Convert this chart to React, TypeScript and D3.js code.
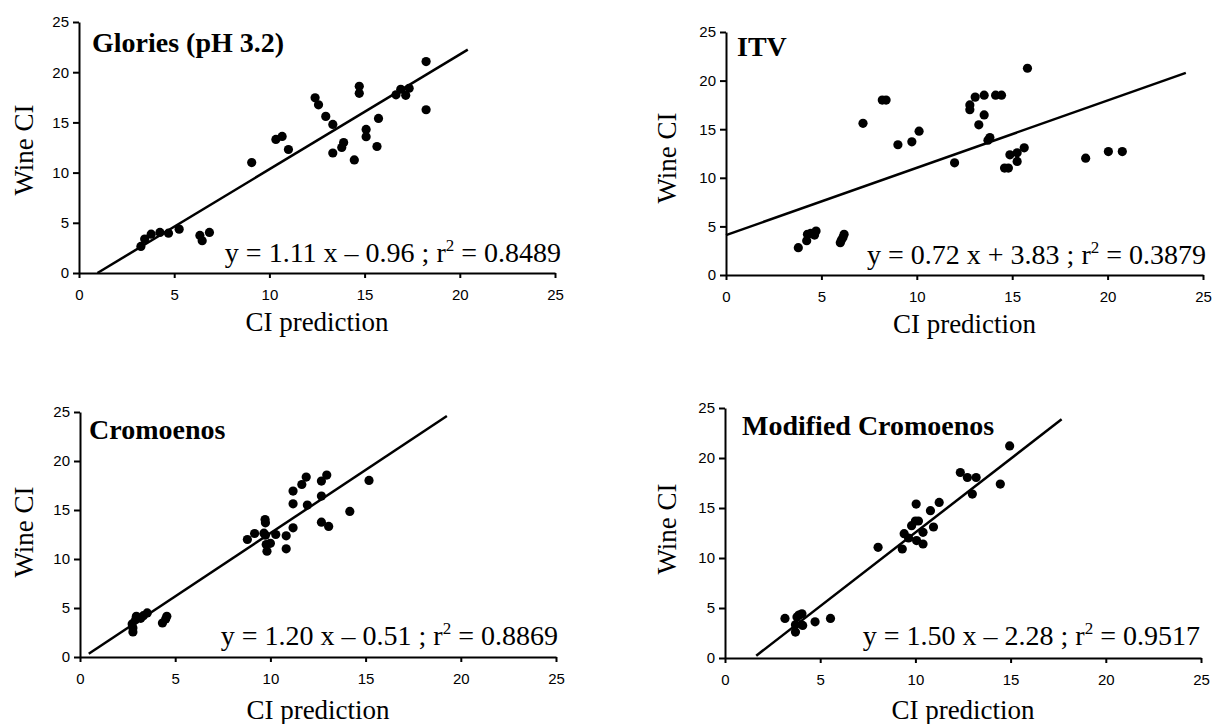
import React, { useEffect, useRef } from "react";
import * as d3 from "d3";

// tick values shared by all four panels
const xTicks = [0, 5, 10, 15, 20, 25];
const yTicks = [0, 5, 10, 15, 20, 25];

// Glories (pH 3.2)
const gloriesX = [3.25, 3.45, 3.79, 4.25, 4.7, 5.26, 6.35, 6.47, 6.85, 9.07, 10.34, 10.67, 11.0, 12.4, 12.58, 12.96, 13.33, 13.33, 13.8, 13.9, 14.46, 14.72, 14.72, 15.08, 15.08, 15.65, 15.73, 16.65, 16.9, 17.16, 17.34, 18.23, 18.23];
const gloriesY = [2.65, 3.38, 3.87, 4.04, 3.97, 4.37, 3.74, 3.21, 4.04, 11.0, 13.3, 13.6, 12.3, 17.45, 16.75, 15.6, 14.8, 11.95, 12.5, 13.0, 11.26, 18.6, 17.9, 14.3, 13.58, 12.6, 15.4, 17.75, 18.3, 17.7, 18.4, 21.06, 16.26];
const gloriesFit = [[0.97, 0], [20.42, 22.25]];

// ITV
const itvX = [3.79, 4.23, 4.27, 4.44, 4.64, 4.72, 5.99, 6.05, 6.13, 6.19, 7.18, 8.19, 8.39, 9.01, 9.74, 10.12, 11.98, 12.78, 12.78, 13.06, 13.25, 13.53, 13.53, 13.73, 13.83, 14.13, 14.44, 14.6, 14.8, 14.88, 15.26, 15.26, 15.63, 15.8, 18.85, 20.04, 20.77];
const itvY = [2.81, 3.53, 4.18, 4.28, 4.11, 4.52, 3.32, 3.6, 3.87, 4.18, 15.6, 18.0, 18.0, 13.4, 13.7, 14.8, 11.54, 17.5, 17.0, 18.3, 15.45, 18.5, 16.47, 13.87, 14.14, 18.5, 18.5, 11.0, 11.0, 12.36, 12.57, 11.68, 13.08, 21.27, 12.02, 12.7, 12.7];
const itvFit = [[0, 4.1], [24.1, 20.8]];

// Cromoenos
const cromoX = [2.78, 2.78, 2.74, 2.92, 2.96, 3.19, 3.33, 3.53, 4.33, 4.5, 4.56, 8.79, 9.17, 9.66, 9.72, 9.74, 9.74, 9.78, 9.82, 10.0, 10.28, 10.83, 10.83, 11.19, 11.19, 11.19, 11.65, 11.88, 11.94, 12.68, 12.68, 12.68, 12.96, 13.06, 14.17, 15.18];
const cromoY = [2.55, 2.96, 3.37, 3.81, 4.16, 3.95, 4.22, 4.5, 3.47, 3.88, 4.16, 11.99, 12.6, 12.64, 14.03, 13.69, 12.43, 11.48, 10.8, 11.6, 12.5, 12.36, 11.04, 13.18, 15.63, 16.93, 17.6, 18.36, 15.5, 13.76, 16.42, 17.95, 18.56, 13.32, 14.85, 18.02];
const cromoFit = [[0.46, 0.34], [19.27, 24.59]];

// Modified Cromoenos
const modX = [3.15, 3.7, 3.7, 3.78, 3.88, 4.04, 4.08, 4.73, 5.54, 8.04, 9.31, 9.41, 9.64, 9.8, 10.0, 10.04, 10.06, 10.16, 10.4, 10.4, 10.79, 10.95, 11.25, 12.36, 12.73, 12.99, 13.19, 14.46, 14.95];
const modY = [3.96, 2.59, 3.32, 4.09, 4.29, 4.42, 3.26, 3.62, 3.96, 11.07, 10.9, 12.43, 12.0, 13.23, 13.7, 15.39, 11.74, 13.7, 12.57, 11.4, 14.73, 13.1, 15.56, 18.55, 18.05, 16.39, 18.05, 17.39, 21.21];
const modFit = [[1.64, 0.23], [17.68, 23.87]];

const titles = ["Glories (pH 3.2)", "ITV", "Cromoenos", "Modified Cromoenos"];
const equations = ["y = 1.11 x – 0.96 ; r", "y = 0.72 x + 3.83 ; r", "y = 1.20 x – 0.51 ; r", "y = 1.50 x – 2.28 ; r"];
const rSquared = ["0.8489", "0.3879", "0.8869", "0.9517"];

const seriesX = [gloriesX, itvX, cromoX, modX];
const seriesY = [gloriesY, itvY, cromoY, modY];
const fits = [gloriesFit, itvFit, cromoFit, modFit];

// pixel frame of each panel
const frames = [
  { x0: 79, x1: 555, y0: 273, y1: 22, titleX: 92, titleY: 52, eqX: 561, eqY: 262, labelX: 24, labelY: 150, xlabY: 331 },
  { x0: 726, x1: 1203, y0: 275, y1: 32, titleX: 737, titleY: 56, eqX: 1206, eqY: 264, labelX: 667, labelY: 158, xlabY: 333 },
  { x0: 80, x1: 556, y0: 657, y1: 412, titleX: 89, titleY: 439, eqX: 558, eqY: 645, labelX: 24, labelY: 532, xlabY: 719 },
  { x0: 725, x1: 1201, y0: 658, y1: 408, titleX: 742, titleY: 435, eqX: 1200, eqY: 645, labelX: 667, labelY: 529, xlabY: 719 },
];

const serif = "'Liberation Serif', 'Times New Roman', serif";
const sans = "'Liberation Sans', Arial, sans-serif";

export default function App() {
  const ref = useRef<SVGSVGElement>(null);

  useEffect(() => {
    const svg = d3.select(ref.current);
    svg.selectAll("*").remove();

    frames.forEach((f, i) => {
      const x = d3.scaleLinear().domain([0, 25]).range([f.x0, f.x1]);
      const y = d3.scaleLinear().domain([0, 25]).range([f.y0, f.y1]);
      const g = svg.append("g");

      // axes
      const xAxis = g.append("g")
        .attr("transform", "translate(0," + f.y0 + ")")
        .call(d3.axisBottom(x).tickValues(xTicks).tickSize(5).tickSizeOuter(0).tickPadding(11));
      const yAxis = g.append("g")
        .attr("transform", "translate(" + f.x0 + ",0)")
        .call(d3.axisLeft(y).tickValues(yTicks).tickSize(6).tickSizeOuter(0).tickPadding(4));
      [xAxis, yAxis].forEach(a => {
        a.selectAll("path, line").attr("stroke", "#000").attr("stroke-width", 2);
        a.selectAll("text").style("font-family", sans).style("font-size", "15px").attr("fill", "#000");
      });

      // fitted line
      g.append("line")
        .attr("x1", x(fits[i][0][0])).attr("y1", y(fits[i][0][1]))
        .attr("x2", x(fits[i][1][0])).attr("y2", y(fits[i][1][1]))
        .attr("stroke", "#000").attr("stroke-width", 2.5);

      // dots
      g.append("g").selectAll("circle")
        .data(seriesX[i])
        .enter()
        .append("circle")
        .attr("cx", d => x(d))
        .attr("cy", (d, j) => y(seriesY[i][j]))
        .attr("r", 4.6)
        .attr("fill", "#000");

      // panel title
      g.append("text")
        .attr("x", f.titleX).attr("y", f.titleY)
        .style("font-family", serif).style("font-size", "28px").style("font-weight", "bold")
        .text(titles[i]);

      // equation
      const eq = g.append("text")
        .attr("x", f.eqX).attr("y", f.eqY)
        .attr("text-anchor", "end")
        .style("font-family", serif).style("font-size", "28px");
      eq.append("tspan").text(equations[i]);
      eq.append("tspan").attr("dy", -11).style("font-size", "17px").text("2");
      eq.append("tspan").attr("dy", 11).text(" = " + rSquared[i]);

      // axis labels
      g.append("text")
        .attr("transform", "translate(" + f.labelX + "," + f.labelY + ") rotate(-90)")
        .attr("text-anchor", "middle")
        .attr("dy", "0.35em")
        .style("font-family", serif).style("font-size", "27px")
        .text("Wine CI");
      g.append("text")
        .attr("x", (f.x0 + f.x1) / 2).attr("y", f.xlabY)
        .attr("text-anchor", "middle")
        .style("font-family", serif).style("font-size", "27px")
        .text("CI prediction");
    });
  }, []);

  return (
    <svg ref={ref} width={1215} height={724}
      style={{ position: "absolute", left: 0, top: 0, background: "#fff" }} />
  );
}
